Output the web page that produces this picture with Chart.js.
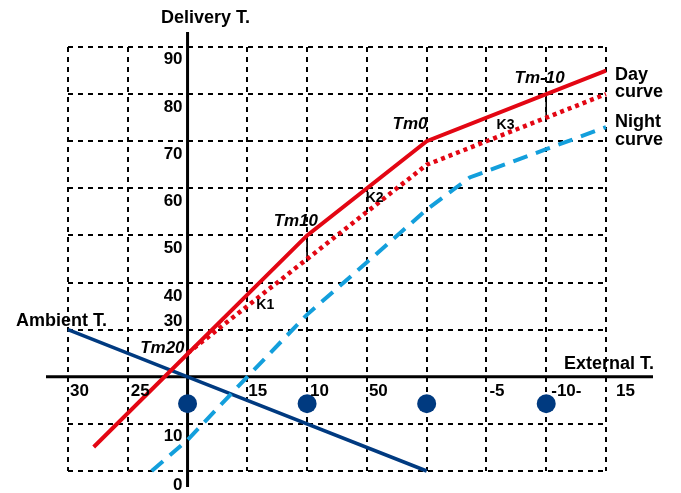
<!DOCTYPE html>
<html>
<head>
<meta charset="utf-8">
<script src="https://cdn.jsdelivr.net/npm/chart.js@4.4.1/dist/chart.umd.min.js"></script>
<style>
  html, body { margin: 0; padding: 0; background: #fff; }
  #wrap { width: 681px; height: 493px; }
</style>
</head>
<body>
<div id="wrap"><canvas id="curveChart" width="681" height="493"></canvas></div>
<script>
        // Tick labels (grid steps run from -2 to 7 on both axes)
        const gridValues = [-2, -1, 0, 1, 2, 3, 4, 5, 6, 7];
        const xTickLabels = ['30', '25', '', '15', '10', '50', '', '-5', '-10-', '15'];
        const yTickLabels = ['0', '10', '', '30', '40', '50', '60', '70', '80', '90'];

        // Curves, in grid units
        const dayX = [-1.57, 2, 4, 7];
        const dayY = [-1.49, 3, 5, 6.5];
        const reducedX = [0, 4, 7];
        const reducedY = [0.5, 4.5, 6];
        const nightX = [-0.6, 0, 1, 2, 3, 4, 4.72, 6, 7];
        const nightY = [-2, -1.34, 0, 1.32, 2.43, 3.55, 4.23, 4.83, 5.3];
        const ambientX = [-2, 0, 4];
        const ambientY = [1, 0, -2];
        const markerX = [0, 2, 4, 6];
        const markerY = [-0.57, -0.57, -0.57, -0.57];

        // Tm / K labels
        const noteTexts = ['Tm20', 'Tm10', 'Tm0', 'Tm-10'];
        const kTexts = ['K1', 'K2', 'K3'];

        const RED = '#e30613';
        const NAVY = '#003a80';
        const SKY = '#139fdc';
        const FONT = '"Liberation Sans", Arial, Helvetica, sans-serif';

        function toPoints(xs, ys) {
            return xs.map((x, i) => ({ x: x, y: ys[i] }));
        }

        // Where the texts sit (grid units), kept apart from the data
        const notePos = [
            { x: -0.05, y: 0.5, align: 'right' },
            { x: 1.44, y: 3.19, align: 'left' },
            { x: 3.43, y: 5.26, align: 'left' },
            { x: 5.47, y: 6.23, align: 'left' }
        ];
        const kPos = [
            { x: 1.15, y: 1.43 },
            { x: 2.98, y: 3.70 },
            { x: 5.17, y: 5.26 }
        ];
        const xLabelShift = [2, 3, 0, 1, 3, 2, 0, 3, 5, 10];
        const yLabelShift = [19, 17, 0, -4, 18, 18, 18, 18, 18, 17];

        // Axes, tick texts and annotations
        const decorPlugin = {
            id: 'decor',
            beforeDatasetsDraw(chart) {
                const ctx = chart.ctx;
                const xs = chart.scales.x;
                const ys = chart.scales.y;
                const area = chart.chartArea;
                const x0 = xs.getPixelForValue(0);
                const y0 = ys.getPixelForValue(0);
                ctx.save();
                ctx.strokeStyle = '#000';
                ctx.lineWidth = 3;
                ctx.beginPath();
                ctx.moveTo(area.left - 22, y0);
                ctx.lineTo(area.right + 47, y0);
                ctx.moveTo(x0, area.top - 15);
                ctx.lineTo(x0, area.bottom + 16);
                ctx.stroke();
                ctx.restore();
            },
            afterDatasetsDraw(chart) {
                const ctx = chart.ctx;
                const xs = chart.scales.x;
                const ys = chart.scales.y;
                const area = chart.chartArea;
                const x0 = xs.getPixelForValue(0);
                const y0 = ys.getPixelForValue(0);
                ctx.save();
                ctx.fillStyle = '#000';
                ctx.textBaseline = 'alphabetic';

                // tick labels
                ctx.font = 'bold 17px ' + FONT;
                ctx.textAlign = 'left';
                gridValues.forEach((v, i) => {
                    if (xTickLabels[i]) {
                        ctx.fillText(xTickLabels[i], xs.getPixelForValue(v) + xLabelShift[i], y0 + 19);
                    }
                });
                ctx.textAlign = 'right';
                gridValues.forEach((v, i) => {
                    if (yTickLabels[i]) {
                        ctx.fillText(yTickLabels[i], x0 - 5, ys.getPixelForValue(v) + yLabelShift[i]);
                    }
                });

                // axis titles and legend texts
                ctx.font = 'bold 18px ' + FONT;
                ctx.textAlign = 'center';
                ctx.fillText('Delivery T.', x0 + 18, area.top - 24);
                ctx.textAlign = 'left';
                ctx.fillText('External T.', area.right - 42, y0 - 8);
                ctx.fillText('Ambient T.', area.left - 52, ys.getPixelForValue(1) - 4);
                const dayEnd = ys.getPixelForValue(dayY[dayY.length - 1]);
                const nightEnd = ys.getPixelForValue(nightY[nightY.length - 1]);
                ctx.fillText('Day', area.right + 9, dayEnd + 9);
                ctx.fillText('curve', area.right + 9, dayEnd + 26);
                ctx.fillText('Night', area.right + 9, nightEnd);
                ctx.fillText('curve', area.right + 9, nightEnd + 18);

                // Tm labels
                ctx.font = 'italic bold 17px ' + FONT;
                noteTexts.forEach((t, i) => {
                    ctx.textAlign = notePos[i].align;
                    ctx.fillText(t, xs.getPixelForValue(notePos[i].x), ys.getPixelForValue(notePos[i].y));
                });

                // K labels
                ctx.font = 'bold 14px ' + FONT;
                ctx.textAlign = 'left';
                kTexts.forEach((t, i) => {
                    ctx.fillText(t, xs.getPixelForValue(kPos[i].x), ys.getPixelForValue(kPos[i].y));
                });
                ctx.restore();
            }
        };

        const gridScale = {
            type: 'linear',
            min: -2,
            max: 7,
            ticks: { stepSize: 1, display: false },
            grid: { color: '#000', lineWidth: 2, drawTicks: false },
            border: { display: false, dash: [5, 5] }
        };

        const ctx = document.getElementById('curveChart').getContext('2d');
        const chart = new Chart(ctx, {
            type: 'line',
            data: {
                datasets: [
                    {
                        label: 'Day curve',
                        data: toPoints(dayX, dayY),
                        borderColor: RED,
                        borderWidth: 4,
                        order: 1
                    },
                    {
                        label: 'Reduced',
                        data: toPoints(reducedX, reducedY),
                        borderColor: RED,
                        borderWidth: 4.5,
                        borderDash: [4, 4],
                        order: 2
                    },
                    {
                        label: 'Night curve',
                        data: toPoints(nightX, nightY),
                        borderColor: SKY,
                        borderWidth: 4,
                        borderDash: [15, 9],
                        order: 3
                    },
                    {
                        label: 'Ambient T.',
                        data: toPoints(ambientX, ambientY),
                        borderColor: NAVY,
                        borderWidth: 3.5,
                        order: 4
                    },
                    {
                        label: 'Tm markers',
                        data: toPoints(markerX, markerY),
                        showLine: false,
                        pointRadius: 9.5,
                        pointBackgroundColor: NAVY,
                        pointBorderWidth: 0,
                        order: 0
                    },
                    {
                        label: 'Tick Tm10',
                        data: [{ x: 2, y: 3 }, { x: 2, y: 2.45 }],
                        borderColor: '#000',
                        borderWidth: 1,
                        order: 5
                    },
                    {
                        label: 'Tick Tm-10',
                        data: [{ x: 6, y: 6 }, { x: 6, y: 5.45 }],
                        borderColor: '#000',
                        borderWidth: 1,
                        order: 5
                    }
                ]
            },
            options: {
                responsive: false,
                animation: false,
                parsing: true,
                layout: { padding: { left: 68, right: 75, top: 47, bottom: 22 } },
                elements: {
                    point: { radius: 0, hoverRadius: 0 },
                    line: { tension: 0, fill: false, borderCapStyle: 'butt' }
                },
                datasets: { line: { clip: false } },
                plugins: {
                    legend: { display: false },
                    tooltip: { enabled: false }
                },
                scales: {
                    x: gridScale,
                    y: Object.assign({}, gridScale)
                }
            },
            plugins: [decorPlugin]
        });
</script>
</body>
</html>
